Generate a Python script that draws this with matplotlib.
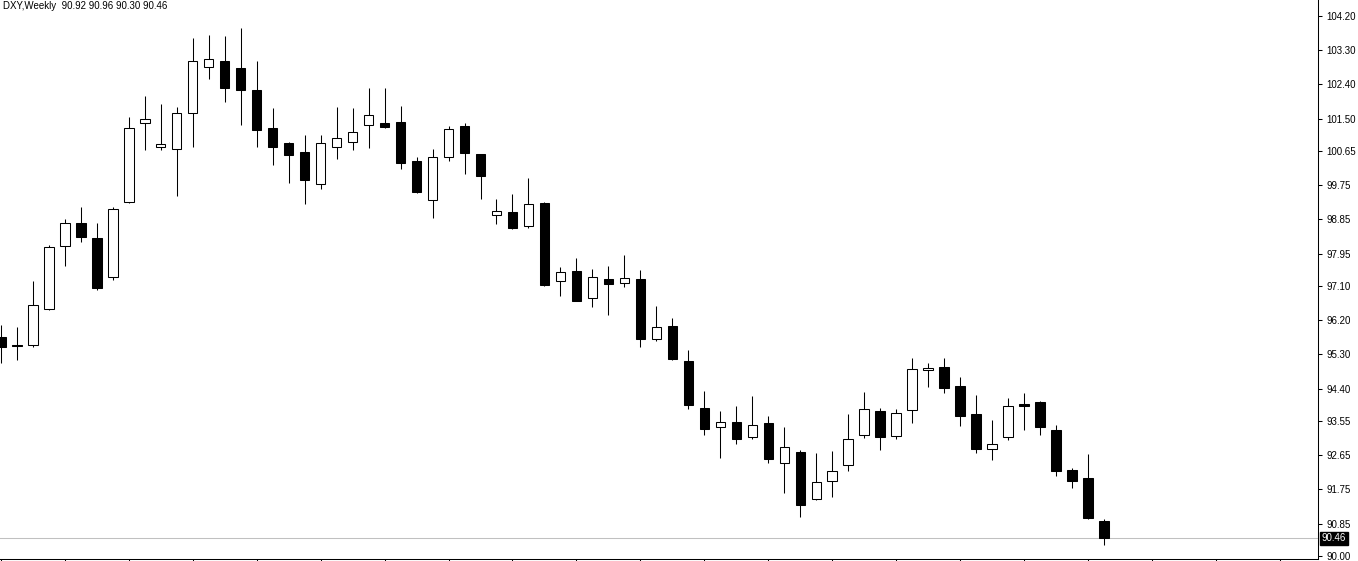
import matplotlib
matplotlib.use("Agg")
import matplotlib.pyplot as plt
import matplotlib.transforms as mtransforms
import numpy as np

# weekly DXY candles, oldest first
opens = [95.76, 95.56, 95.55, 96.50, 98.15, 98.76, 98.36, 97.34, 99.31, 101.39,
         100.75, 100.70, 101.65, 102.86, 103.02, 102.83, 102.25, 101.25, 100.86, 100.62,
         99.78, 100.75, 100.89, 101.33, 101.39, 101.41, 100.39, 99.36, 100.49, 101.31,
         100.57, 98.97, 99.05, 98.68, 99.28, 97.23, 97.49, 96.78, 97.28, 97.18,
         97.28, 95.71, 96.05, 95.13, 93.89, 93.39, 93.52, 93.13, 93.50, 92.45,
         92.73, 91.50, 91.97, 92.39, 93.18, 93.81, 93.16, 93.84, 94.89, 94.97,
         94.47, 93.73, 92.81, 93.13, 94.00, 94.05, 93.31, 92.26, 92.05, 90.92]
highs = [96.07, 96.02, 97.23, 98.18, 98.86, 99.18, 98.76, 99.18, 101.54, 102.10,
         101.89, 101.81, 103.62, 103.70, 103.67, 103.88, 103.02, 101.78, 100.89, 101.07,
         101.07, 101.81, 101.78, 102.31, 102.31, 101.83, 100.49, 100.70, 101.31, 101.39,
         100.57, 99.39, 99.52, 99.94, 99.31, 97.60, 97.84, 97.55, 97.63, 97.91,
         97.52, 96.57, 96.26, 95.42, 94.34, 93.81, 93.94, 94.21, 93.68, 93.39,
         92.79, 92.71, 92.76, 93.73, 94.31, 93.89, 93.87, 95.21, 95.07, 95.21,
         94.71, 94.23, 93.58, 94.15, 94.29, 94.08, 93.44, 92.31, 92.68, 90.96]
lows = [95.07, 95.15, 95.50, 96.47, 97.63, 98.26, 96.99, 97.26, 99.29, 100.68,
        100.68, 99.47, 100.75, 102.54, 101.94, 101.33, 100.75, 100.28, 99.81, 99.26,
        99.65, 100.44, 100.68, 100.73, 101.25, 100.18, 99.55, 98.89, 100.39, 100.04,
        99.39, 98.73, 98.60, 98.62, 97.10, 96.84, 96.70, 96.55, 96.34, 97.07,
        95.50, 95.65, 95.15, 93.87, 93.18, 92.58, 92.95, 93.08, 92.45, 91.66,
        91.03, 91.47, 91.55, 92.24, 93.10, 92.79, 93.08, 93.50, 94.44, 94.29,
        93.42, 92.71, 92.52, 93.05, 93.31, 93.18, 92.10, 91.79, 90.97, 90.30]
closes = [95.50, 95.51, 96.60, 98.13, 98.76, 98.39, 97.05, 99.12, 101.25, 101.49,
          100.83, 101.65, 103.02, 103.07, 102.31, 102.25, 101.20, 100.75, 100.54, 99.89,
          100.86, 100.99, 101.15, 101.60, 101.28, 100.33, 99.57, 100.49, 101.23, 100.60,
          99.99, 99.07, 98.62, 99.26, 97.13, 97.47, 96.71, 97.34, 97.15, 97.31,
          95.71, 96.02, 95.18, 93.97, 93.34, 93.52, 93.08, 93.44, 92.55, 92.87,
          91.34, 91.95, 92.24, 93.08, 93.87, 93.13, 93.76, 94.92, 94.94, 94.42,
          93.68, 92.81, 92.95, 93.94, 93.94, 93.39, 92.24, 91.97, 91.00, 90.46]

price_ticks = [104.20, 103.30, 102.40, 101.50, 100.65, 99.75, 98.85, 97.95, 97.10,
               96.20, 95.30, 94.40, 93.55, 92.65, 91.75, 90.85, 90.00]
title_text = "DXY,Weekly  90.92 90.96 90.30 90.46"
last_price = 90.46

FONT = "Liberation Sans"
LW = 0.75

fig = plt.figure(figsize=(13.58, 5.61), dpi=100)
ax = fig.add_axes([0.0, 0.0036, 1318 / 1358, 1 - 0.0036])

x = np.arange(len(opens))
o = np.array(opens)
h = np.array(highs)
l = np.array(lows)
c = np.array(closes)
up = c >= o

# wicks first, bodies on top so hollow candles hide the wick
ax.vlines(x, l, h, color="black", linewidth=LW, zorder=2)
bottom = np.minimum(o, c)
height = np.maximum(np.abs(c - o), 0.02)
ax.bar(x[up], height[up], bottom=bottom[up], width=0.6,
       facecolor="white", edgecolor="black", linewidth=LW, zorder=3)
ax.bar(x[~up], height[~up], bottom=bottom[~up], width=0.6,
       facecolor="black", edgecolor="black", linewidth=LW, zorder=3)

# current price line + label
ax.axhline(last_price, color="#c0c0c0", linewidth=LW, zorder=1)
trans = mtransforms.blended_transform_factory(ax.transAxes, ax.transData)
ax.text(1.0028, last_price, f"{last_price:.2f}", transform=trans, color="white",
        fontsize=7, family=FONT, va="center", ha="left", clip_on=False,
        bbox=dict(boxstyle="square,pad=0.15", facecolor="black", edgecolor="black"))

ax.set_xlim(-0.05, 1318 / 16)
ax.set_ylim(89.92, 104.62)

ax.set_xticks(np.arange(0, 83, 4))
ax.set_xticklabels([])
ax.tick_params(axis="x", direction="out", length=3, width=LW, color="black")

ax.yaxis.tick_right()
ax.set_yticks(price_ticks)
ax.set_yticklabels([f"{t:.2f}" for t in price_ticks])
ax.tick_params(axis="y", direction="out", length=3, width=LW, pad=3, labelsize=7)
for lab in ax.get_yticklabels():
    lab.set_family(FONT)

for side in ("left", "top"):
    ax.spines[side].set_visible(False)
for side in ("right", "bottom"):
    ax.spines[side].set_linewidth(LW)

ax.text(0.002, 0.989, title_text, transform=ax.transAxes, fontsize=7, family=FONT,
        va="center", ha="left")

fig.savefig("out.png", dpi=100, facecolor="white")
